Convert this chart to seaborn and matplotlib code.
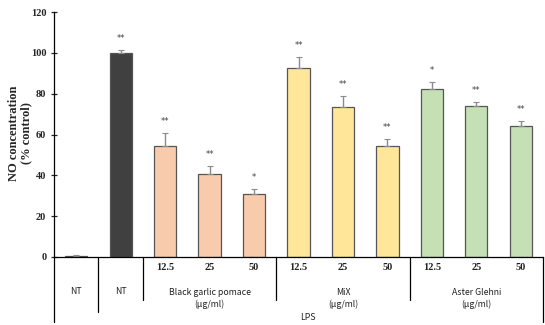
import matplotlib
matplotlib.use("Agg")
import matplotlib.pyplot as plt
import matplotlib.transforms as mtransforms
import seaborn as sns
import pandas as pd

conditions = ["NT", "LPS", "BG12.5", "BG25", "BG50", "MiX12.5", "MiX25", "MiX50", "AG12.5", "AG25", "AG50"]
values = [0.5, 100.0, 54.5, 40.8, 30.8, 92.8, 73.7, 54.6, 82.1, 73.8, 64.0]
errors = [0.5, 1.2, 6.0, 3.6, 2.5, 5.0, 5.3, 3.3, 3.6, 2.2, 2.5]
stars = ["", "**", "**", "**", "*", "**", "**", "**", "*", "**", "**"]
doses = ["", "", "12.5", "25", "50", "12.5", "25", "50", "12.5", "25", "50"]
colors = ["#d9d9d9", "#404040", "#f8cbad", "#f8cbad", "#f8cbad",
          "#ffe699", "#ffe699", "#ffe699", "#c5e0b4", "#c5e0b4", "#c5e0b4"]
group_labels = ["NT", "NT", "Black garlic pomace\n(μg/ml)", "MiX\n(μg/ml)", "Aster Glehni\n(μg/ml)"]
group_centers = [0, 1, 3, 6, 9]
y_ticks = [0, 20, 40, 60, 80, 100, 120]

df = pd.DataFrame({"condition": conditions, "value": values})

sns.set_style("white")
plt.rcParams["font.family"] = ["DejaVu Sans"]

fig = plt.figure(figsize=(5.45, 3.25), dpi=100)
ax = fig.add_axes([54 / 545, 1 - 257 / 325, (543 - 54) / 545, 245 / 325])

sns.barplot(data=df, x="condition", y="value", hue="condition", order=conditions,
            hue_order=conditions, palette=colors, width=0.5, edgecolor="#555555",
            linewidth=0.9, legend=False, ax=ax, saturation=1)

xs = list(range(len(conditions)))
ax.errorbar(xs, values, yerr=[[0] * len(errors), errors], fmt="none",
            ecolor="#8c8c8c", elinewidth=1.0, capsize=2, capthick=0.8)

for i, (v, e, s) in enumerate(zip(values, errors, stars)):
    if s:
        ax.text(i, v + e + 3.5, s, ha="center", va="bottom", fontsize=6,
                color="#404040")

ax.set_xlim(-0.5, 10.5)
ax.set_ylim(0, 120)
ax.set_yticks(y_ticks)
ax.set_yticklabels([str(t) for t in y_ticks], fontsize=7.5,
                   family="Liberation Serif", fontweight="bold")
ax.tick_params(axis="y", direction="inout", length=5, width=0.9, pad=3, left=True)
ax.set_xticks([])
ax.set_xlabel("")
ax.set_ylabel("")
fig.text(20 / 545, 1 - 133 / 325, "NO concentration\n(% control)", rotation=90,
         ha="center", va="center", fontsize=9, family="Liberation Serif",
         fontweight="bold", linespacing=1.1)
for sp in ["top", "right"]:
    ax.spines[sp].set_visible(False)
for sp in ["left", "bottom"]:
    ax.spines[sp].set_color("black")
    ax.spines[sp].set_linewidth(0.9)

trans = mtransforms.blended_transform_factory(ax.transData, ax.transAxes)

def fy(py):
    return (257 - py) / 245

# table lines below the axis
ax.plot([-0.5, -0.5], [0, fy(322)], transform=trans, color="black", lw=0.9, clip_on=False)
ax.plot([0.5, 0.5], [0, fy(312)], transform=trans, color="black", lw=0.9, clip_on=False)
for xl in [1.5, 4.5, 7.5]:
    ax.plot([xl, xl], [0, fy(300)], transform=trans, color="black", lw=0.9, clip_on=False)
ax.plot([10.5, 10.5], [0, fy(322)], transform=trans, color="black", lw=0.9, clip_on=False)

for i, d in enumerate(doses):
    if d:
        ax.text(i, fy(268), d, transform=trans, ha="center", va="center", fontsize=7.5,
                family="Liberation Serif", fontweight="bold", color="#222222")

for c, g in zip(group_centers, group_labels):
    ax.text(c, fy(292) if "\n" not in g else fy(298.5), g, transform=trans, ha="center",
            va="center", fontsize=6.3, family="Noto Sans CJK KR", color="#222222",
            linespacing=1.4)

ax.text(5.2, fy(318), "LPS", transform=trans, ha="center", va="center", fontsize=6.3,
        family="Noto Sans CJK KR", color="#222222")

fig.savefig("out.png", dpi=100)
